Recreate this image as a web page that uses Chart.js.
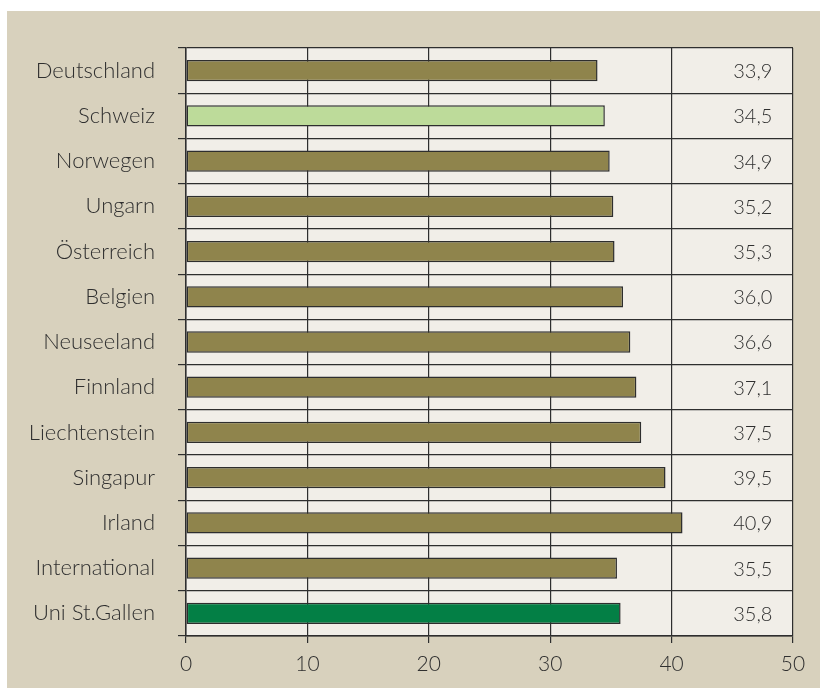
<!DOCTYPE html>
<html>
<head>
<meta charset="utf-8">
<script src="https://cdn.jsdelivr.net/npm/chart.js@4"></script>
<style>
  html, body { margin: 0; padding: 0; background: #ffffff; }
  #wrap { position: absolute; left: 7px; top: 11px; width: 813px; height: 677px; background: #d8d1bd; }
</style>
</head>
<body>
<div id="wrap"><canvas id="myChart" width="813" height="677"></canvas></div>
<script>
const countries = [
    'Deutschland', 'Schweiz', 'Norwegen', 'Ungarn', 'Österreich', 'Belgien',
    'Neuseeland', 'Finnland', 'Liechtenstein', 'Singapur', 'Irland',
    'International', 'Uni St.Gallen'
];
const scores = [33.9, 34.5, 34.9, 35.2, 35.3, 36.0, 36.6, 37.1, 37.5, 39.5, 40.9, 35.5, 35.8];
const xTicks = [0, 10, 20, 30, 40, 50];

const olive = '#8f844c';
const barColors = countries.map(c => {
    if (c === 'Schweiz') return '#bddb9a';
    if (c === 'Uni St.Gallen') return '#037f45';
    return olive;
});

const fontFamily = 'Lato, "Open Sans", sans-serif';

// value column on the right side of the plot
const valueLabels = {
    id: 'valueLabels',
    afterDatasetsDraw(chart) {
        const ctx = chart.ctx;
        const x = chart.scales.x.getPixelForValue(48.3);
        ctx.save();
        ctx.font = '300 20px ' + fontFamily;
        ctx.fillStyle = '#2f2f2f';
        ctx.textAlign = 'right';
        ctx.textBaseline = 'middle';
        scores.forEach((v, i) => {
            const y = chart.scales.y.getPixelForValue(i);
            ctx.fillText(v.toFixed(1).replace('.', ','), x, y + 1);
        });
        ctx.restore();
    }
};

const plotBg = {
    id: 'plotBg',
    beforeDraw(chart) {
        const a = chart.chartArea;
        chart.ctx.save();
        chart.ctx.fillStyle = '#f1eee8';
        chart.ctx.fillRect(a.left, a.top, a.right - a.left, a.bottom - a.top);
        chart.ctx.restore();
    }
};

const ctx = document.getElementById('myChart').getContext('2d');
new Chart(ctx, {
    type: 'bar',
    data: {
        labels: countries,
        datasets: [{
            data: scores,
            backgroundColor: barColors,
            borderColor: '#2e2e2e',
            borderWidth: 1.5,
            borderSkipped: false,
            categoryPercentage: 1,
            barPercentage: 0.47
        }]
    },
    options: {
        indexAxis: 'y',
        responsive: false,
        animation: false,
        layout: { padding: { top: 37, right: 27, left: 0, bottom: 0 } },
        plugins: {
            legend: { display: false },
            tooltip: { enabled: false }
        },
        scales: {
            x: {
                min: 0,
                max: 50,
                afterBuildTicks(scale) { scale.ticks = xTicks.map(v => ({ value: v })); },
                afterFit(scale) { scale.height = 52; },
                grid: { color: '#2e2e2e', lineWidth: 1.2, tickLength: 7, drawOnChartArea: true },
                border: { display: true, color: '#2e2e2e', width: 1.5 },
                ticks: {
                    padding: 9,
                    color: '#2f2f2f',
                    font: { family: fontFamily, size: 21, weight: '300' }
                }
            },
            y: {
                afterFit(scale) { scale.width = 179; },
                grid: { color: '#2e2e2e', lineWidth: 1.2, tickLength: 8, offset: true },
                border: { display: true, color: '#2e2e2e', width: 1.5 },
                ticks: {
                    padding: 23,
                    color: '#2f2f2f',
                    font: { family: fontFamily, size: 22, weight: '300' }
                }
            }
        }
    },
    plugins: [plotBg, valueLabels]
});
</script>
</body>
</html>
